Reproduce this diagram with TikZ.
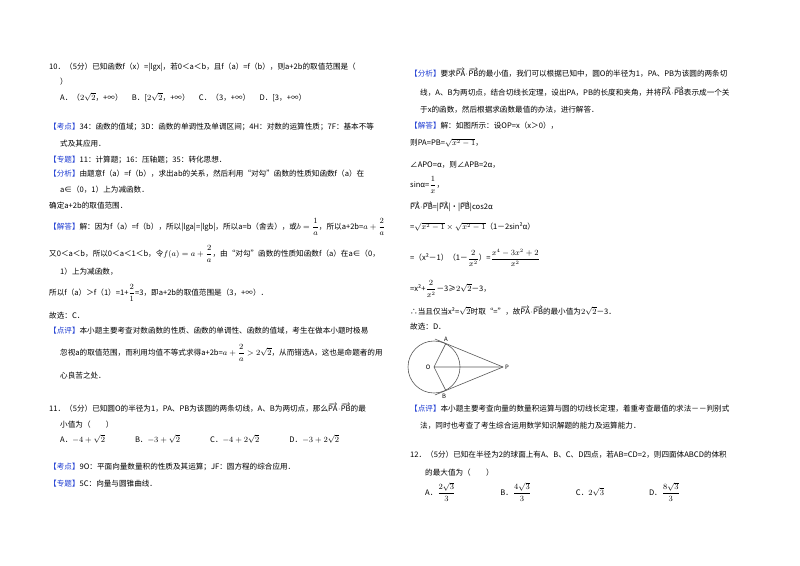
\documentclass[tikz,border=0pt]{standalone}
\usepackage{fontspec}
\usetikzlibrary{calc}
\setmainfont{Noto Sans CJK SC}
\definecolor{tagblue}{RGB}{30,60,210}
\newcommand{\tg}[1]{\textcolor{tagblue}{【#1】}}
\newcommand{\fr}[2]{{\displaystyle\frac{#1}{#2}}}
\newcommand{\PAPB}{$\overrightarrow{\mathrm{PA}}\!\cdot\!\overrightarrow{\mathrm{PB}}$}
\begin{document}
\begin{tikzpicture}[x=1pt,y=-1pt,txt/.style={anchor=west,inner sep=0pt,font=\fontsize{7.6}{9}\selectfont}]
\fill[white] (0,0) rectangle (800,565);
\useasboundingbox (0,0) rectangle (800,565);
% left column
\node[txt] (a1) at (49,67) {10．（5分）已知函数f（x）=|lgx|，若0＜a＜b，且f（a）=f（b），则a+2b的取值范围是（};
\node[txt] (a2) at (60,82) {）};
\node[txt] (a3) at (60,97) {A．（$2\sqrt2$，+∞）\quad\ B．[$2\sqrt2$，+∞）\quad\ C．（3，+∞）\quad\ D．[3，+∞）};
\node[txt] (a4) at (49,127) {\tg{考点}34：函数的值域；3D：函数的单调性及单调区间；4H：对数的运算性质；7F：基本不等};
\node[txt] (a5) at (60,144) {式及其应用．};
\node[txt] (a6) at (49,160) {\tg{专题}11：计算题；16：压轴题；35：转化思想．};
\node[txt] (a7) at (49,174) {\tg{分析}由题意f（a）=f（b），求出ab的关系，然后利用“对勾”函数的性质知函数f（a）在};
\node[txt] (a8) at (60,190) {a∈（0，1）上为减函数．};
\node[txt] (a9) at (49,206) {确定a+2b的取值范围．};
\node[txt] (a10) at (49,227) {\tg{解答}解：因为f（a）=f（b），所以|lga|=|lgb|，所以a=b（舍去），或$b=\fr1a$，所以a+2b=$a+\fr2a$};
\node[txt] (a11) at (49,254) {又0＜a＜b，所以0＜a＜1＜b，令$f(a)=a+\fr2a$，由“对勾”函数的性质知函数f（a）在a∈（0，};
\node[txt] (a12) at (60,272) {1）上为减函数，};
\node[txt] (a13) at (49,293) {所以f（a）＞f（1）=1+$\fr21$=3，即a+2b的取值范围是（3，+∞）．};
\node[txt] (a14) at (49,316) {故选：C．};
\node[txt] (a15) at (49,331) {\tg{点评}本小题主要考查对数函数的性质、函数的单调性、函数的值域，考生在做本小题时极易};
\node[txt] (a16) at (60,353) {忽视a的取值范围，而利用均值不等式求得a+2b=$a+\fr2a>2\sqrt2$，从而错选A，这也是命题者的用};
\node[txt] (a17) at (60,376) {心良苦之处．};
\node[txt] (b1) at (49,408) {11．（5分）已知圆O的半径为1，PA、PB为该圆的两条切线，A、B为两切点，那么\PAPB 的最};
\node[txt] (b2) at (60,425) {小值为（\qquad）};
\node[txt] (b3) at (60,439) {A．$-4+\sqrt2$\hspace{30pt}B．$-3+\sqrt2$\hspace{30pt}C．$-4+2\sqrt2$\hspace{30pt}D．$-3+2\sqrt2$};
\node[txt] (b4) at (49,467) {\tg{考点}9O：平面向量数量积的性质及其运算；JF：圆方程的综合应用．};
\node[txt] (b5) at (49,484) {\tg{专题}5C：向量与圆锥曲线．};
% right column
\node[txt] (c1) at (410,73) {\tg{分析}要求\PAPB 的最小值，我们可以根据已知中，圆O的半径为1，PA、PB为该圆的两条切};
\node[txt] (c2) at (420,92) {线，A、B为两切点，结合切线长定理，设出PA，PB的长度和夹角，并将\PAPB 表示成一个关};
\node[txt] (c3) at (420,110) {于x的函数，然后根据求函数最值的办法，进行解答．};
\node[txt] (c4) at (410,126) {\tg{解答}解：如图所示：设OP=x（x＞0），};
\node[txt] (c5) at (410,143) {则PA=PB=$\sqrt{x^2-1}$，};
\node[txt] (c6) at (410,165) {∠APO=α，则∠APB=2α，};
\node[txt] (c7) at (410,185) {sinα=$\fr1x$，};
\node[txt] (c8) at (410,207) {\PAPB=|$\overrightarrow{\mathrm{PA}}$|•|$\overrightarrow{\mathrm{PB}}$|cos2α};
\node[txt] (c9) at (410,227) {=$\sqrt{x^2-1}\times\sqrt{x^2-1}$（1－2sin²α）};
\node[txt] (c10) at (410,258) {=（x²－1）（1－$\fr{2}{x^2}$）=$\fr{x^4-3x^2+2}{x^2}$};
\node[txt] (c11) at (410,289) {=x²+$\fr{2}{x^2}$－3≥$2\sqrt2$－3，};
\node[txt] (c12) at (410,311) {∴当且仅当x²=$\sqrt2$时取“=”，故\PAPB 的最小值为$2\sqrt2$－3．};
\node[txt] (c13) at (410,327) {故选：D．};
% figure
\coordinate (O) at (434,367);
\coordinate (P) at (503,367);
\coordinate (A) at (445.8,343.5);
\coordinate (B) at (445.8,390.5);
\draw[gray!70!black,line width=0.6pt] (O) circle (26);
\draw[gray!70!black,line width=0.6pt] (O) -- (P) (O) -- (A) (O) -- (B);
\draw[gray!70!black,line width=0.6pt] (P) -- ($(P)!1.19!(A)$) coordinate (A2);
\draw[gray!70!black,line width=0.6pt] (P) -- ($(P)!1.19!(B)$) coordinate (B2);
\node[font=\itshape\fontsize{6}{6}\selectfont,inner sep=0] (lA) at (446,339) {A};
\node[font=\itshape\fontsize{6}{6}\selectfont,inner sep=0] (lB) at (444,396) {B};
\node[font=\itshape\fontsize{6}{6}\selectfont,inner sep=0] (lO) at (428,367) {O};
\node[font=\itshape\fontsize{6}{6}\selectfont,inner sep=0] (lP) at (507,367) {P};
\node[txt] (d1) at (410,409) {\tg{点评}本小题主要考查向量的数量积运算与圆的切线长定理，着重考查最值的求法－－判别式};
\node[txt] (d2) at (420,426) {法，同时也考查了考生综合运用数学知识解题的能力及运算能力．};
\node[txt] (e1) at (410,455) {12．（5分）已知在半径为2的球面上有A、B、C、D四点，若AB=CD=2，则四面体ABCD的体积};
\node[txt] (e2) at (425,473) {的最大值为（\qquad）};
\node[txt] (e3) at (425,492) {A．$\fr{2\sqrt3}{3}$\hspace{45pt}B．$\fr{4\sqrt3}{3}$\hspace{45pt}C．$2\sqrt3$\hspace{45pt}D．$\fr{8\sqrt3}{3}$};
\end{tikzpicture}
\end{document}
